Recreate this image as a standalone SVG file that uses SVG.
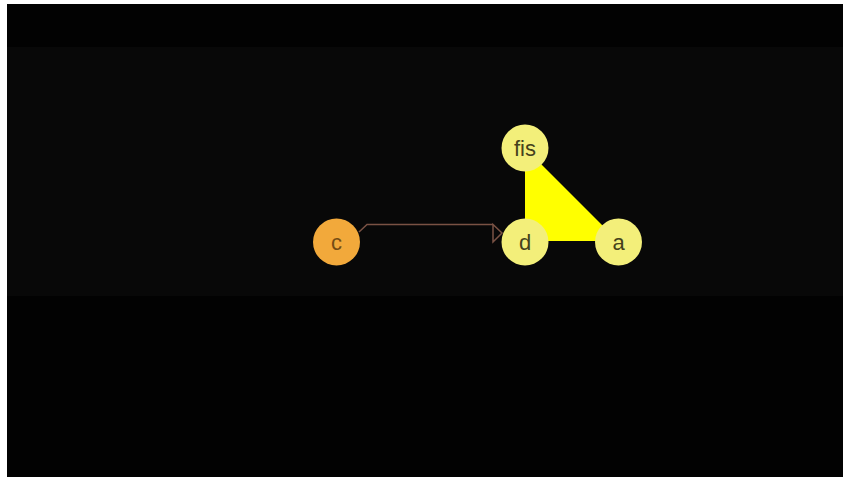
<svg xmlns="http://www.w3.org/2000/svg" width="843" height="477" viewBox="0 0 843 477">
<style>
.node{fill:#f3ef7a}
.lbl{font-family:"Liberation Sans",Arial,sans-serif;font-size:22px;fill:#45421c;text-anchor:middle}
.edge{fill:none;stroke:#7a5244;stroke-width:1.5}
</style>
<rect x="0" y="0" width="843" height="477" fill="#ffffff"/>
<rect x="7" y="4" width="836" height="473" fill="#020202"/>
<rect x="7" y="47" width="836" height="249" fill="#080808"/>
<polygon points="525,148 525,241 618,241" fill="#ffff00"/>
<g id="connectors">
<path class="edge" d="M359,232 L367,224.5 L493,224.5"/>
<polygon class="edge" points="493,224.5 493,242 502,233"/>
</g>
<g id="node-fis"><circle class="node" cx="525" cy="148" r="23.5"/><text class="lbl" x="525" y="156">fis</text></g>
<g id="node-c"><circle cx="336.5" cy="242" r="23.5" fill="#f2a93b"/><text class="lbl" x="336.5" y="250" style="fill:#744c14">c</text></g>
<g id="node-d"><circle class="node" cx="525" cy="242" r="23.5"/><text class="lbl" x="525" y="250">d</text></g>
<g id="node-a"><circle class="node" cx="618.5" cy="242" r="23.5"/><text class="lbl" x="618.5" y="250">a</text></g>
</svg>
